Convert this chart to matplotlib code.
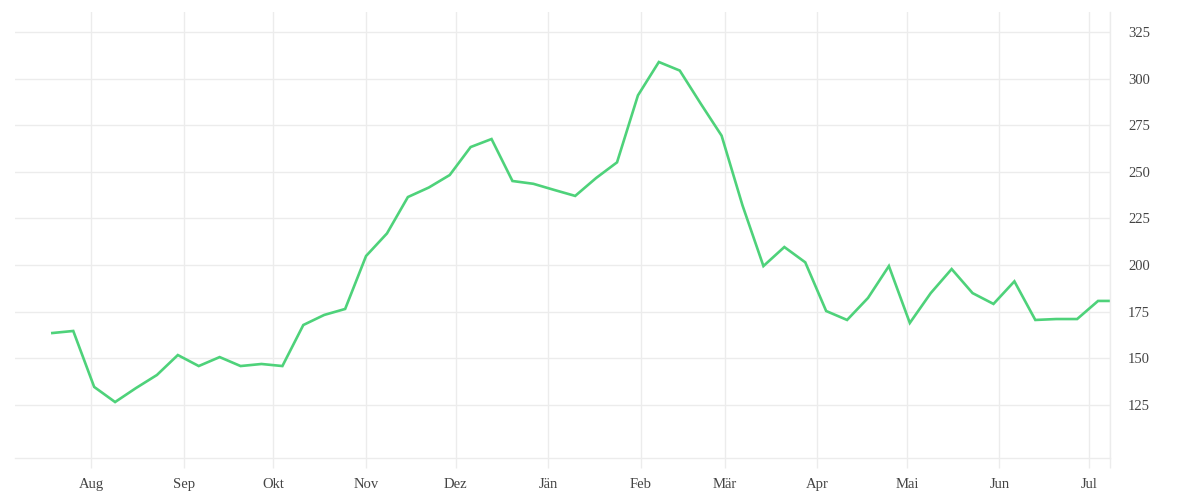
import numpy as np
import pandas as pd
import matplotlib
matplotlib.use('Agg')
import matplotlib.pyplot as plt
import matplotlib.dates as mdates

# weekly values
dates = list(pd.date_range('2020-07-19', periods=51, freq='7D')) + [pd.Timestamp('2021-07-08')]
values = [163.6, 164.7, 134.7, 126.6, 134.1, 141.1, 151.8, 145.9, 150.7, 145.9,
          147.0, 145.9, 167.9, 173.3, 176.5, 204.9, 217.0, 236.5, 241.6, 248.3,
          263.3, 267.6, 245.1, 243.6, 240.3, 237.1, 246.7, 255.1, 291.0, 308.9,
          304.3, 286.6, 269.4, 232.0, 199.5, 209.7, 201.5, 175.4, 170.6, 182.4,
          199.5, 169.0, 185.0, 197.9, 185.0, 179.2, 191.3, 170.6, 171.1, 171.1,
          180.8, 180.8]

month_ticks = pd.date_range('2020-08-01', '2021-07-01', freq='MS')
month_labels = ['Aug', 'Sep', 'Okt', 'Nov', 'Dez', 'Jän', 'Feb', 'Mär', 'Apr', 'Mai', 'Jun', 'Jul']
y_ticks = [125, 150, 175, 200, 225, 250, 275, 300, 325]

grid_col = '#ececec'
text_col = '#444444'

fig = plt.figure(figsize=(12, 5), dpi=100)
ax = fig.add_axes([15 / 1200, 42 / 500, 1095 / 1200, 446 / 500])

ax.plot(dates, values, color='#4ed27a', linewidth=1.9, solid_joinstyle='miter')

ax.set_xlim(dates[0] - pd.Timedelta(days=12.5), dates[-1])
ax.set_ylim(96.6, 335.7)

ax.set_xticks(month_ticks)
ax.set_xticklabels(month_labels)
ax.set_xticks([mdates.date2num(dates[-1])], minor=True)
ax.set_yticks(y_ticks)
ax.yaxis.tick_right()

ax.grid(True, which='both', color=grid_col, linewidth=1)
ax.set_axisbelow(True)
ax.tick_params(axis='x', which='both', length=7.2, width=1, color=grid_col,
               labelsize=10.5, labelcolor=text_col, pad=7)
ax.tick_params(axis='y', length=0, labelsize=10.5, labelcolor=text_col, pad=13)
for lbl in ax.get_xticklabels() + ax.get_yticklabels():
    lbl.set_family('Liberation Serif')

for side in ['left', 'top']:
    ax.spines[side].set_visible(False)
for side in ['bottom', 'right']:
    ax.spines[side].set_color(grid_col)
    ax.spines[side].set_linewidth(1)

fig.savefig('out.png', dpi=100, facecolor='white')
